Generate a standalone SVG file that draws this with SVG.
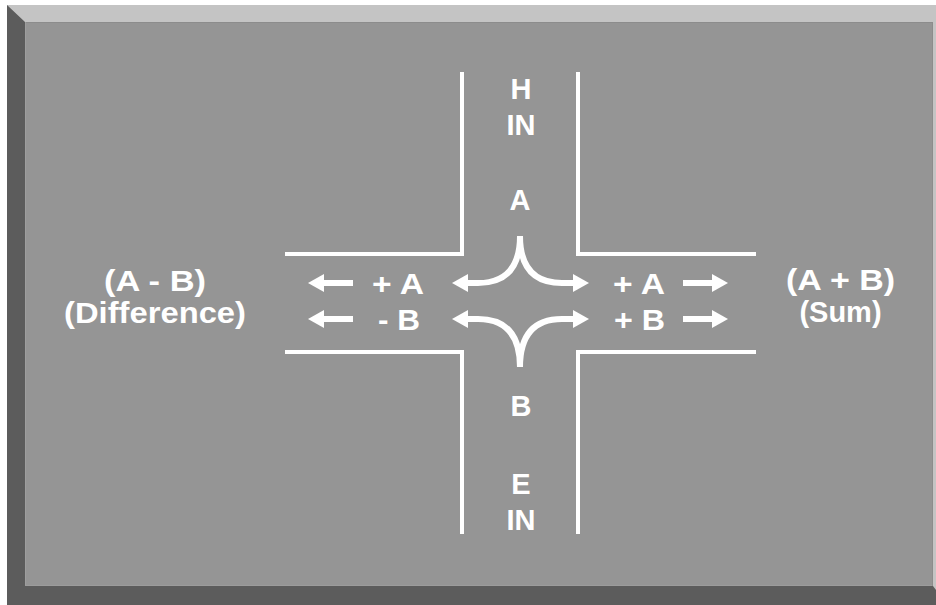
<svg xmlns="http://www.w3.org/2000/svg" width="936" height="605" viewBox="0 0 936 605">
  <style>
    .road { fill: none; stroke: #ffffff; stroke-width: 4; }
    .lbl { fill: #ffffff; font-family: "Liberation Sans", Arial, sans-serif; font-weight: bold; font-size: 29px; text-anchor: middle; }
    .arr { fill: none; stroke: #ffffff; stroke-width: 6; marker-end: url(#head); }
  </style>
  <defs>
    <marker id="head" viewBox="0 0 16 18" refX="2" refY="9" markerWidth="16" markerHeight="18" markerUnits="userSpaceOnUse" orient="auto">
      <path d="M0,0 L16,9 L0,18 Z" fill="#ffffff"/>
    </marker>
  </defs>
  <rect x="0" y="0" width="936" height="605" fill="#ffffff"/>
  <g id="frame">
    <polygon points="7,5 936,5 936,605 7,605" fill="#c4c4c4"/>
    <polygon points="7,5 25,22 25,586 933,586 936,590 936,605 7,605" fill="#5c5c5c"/>
    <rect x="25" y="22" width="908" height="564" fill="#959595"/>
    <line x1="25" y1="22.5" x2="933" y2="22.5" stroke="#8c8c8c" stroke-width="1"/>
    <line x1="25.5" y1="22" x2="25.5" y2="586" stroke="#9e9e9e" stroke-width="1"/>
    <line x1="25" y1="585.5" x2="933" y2="585.5" stroke="#9c9c9c" stroke-width="1"/>
    <line x1="932.5" y1="22" x2="932.5" y2="586" stroke="#8c8c8c" stroke-width="1"/>
  </g>
  <g id="roads">
    <polyline class="road" points="462,72 462,254 285,254"/>
    <polyline class="road" points="578,72 578,254 756,254"/>
    <polyline class="road" points="285,352 462,352 462,534"/>
    <polyline class="road" points="756,352 578,352 578,534"/>
  </g>
  <g id="connectors">
    <line class="arr" x1="353" y1="283" x2="322" y2="283"/>
    <line class="arr" x1="353" y1="319" x2="322" y2="319"/>
    <line class="arr" x1="683" y1="283" x2="714" y2="283"/>
    <line class="arr" x1="683" y1="319" x2="714" y2="319"/>
    <path class="arr" d="M520,236 Q520,283 478,283 L466,283"/>
    <path class="arr" d="M520,236 Q520,283 562,283 L575,283"/>
    <path class="arr" d="M520,367 Q520,319 478,319 L466,319"/>
    <path class="arr" d="M520,367 Q520,319 562,319 L575,319"/>
  </g>
  <g id="node-difference">
    <text class="lbl" x="155" y="291" textLength="102" lengthAdjust="spacingAndGlyphs">(A - B)</text>
    <text class="lbl" x="155" y="323" textLength="182" lengthAdjust="spacingAndGlyphs">(Difference)</text>
  </g>
  <g id="node-sum">
    <text class="lbl" x="840.5" y="290" textLength="109" lengthAdjust="spacingAndGlyphs">(A + B)</text>
    <text class="lbl" x="840.5" y="322">(Sum)</text>
  </g>
  <g id="node-left-labels">
    <text class="lbl" x="398" y="294" textLength="52" lengthAdjust="spacingAndGlyphs">+ A</text>
    <text class="lbl" x="399" y="330" textLength="42" lengthAdjust="spacingAndGlyphs">- B</text>
  </g>
  <g id="node-right-labels">
    <text class="lbl" x="639" y="294" textLength="52" lengthAdjust="spacingAndGlyphs">+ A</text>
    <text class="lbl" x="639.5" y="330" textLength="51" lengthAdjust="spacingAndGlyphs">+ B</text>
  </g>
  <g id="node-h-in">
    <text class="lbl" x="521" y="99">H</text>
    <text class="lbl" x="521" y="135">IN</text>
  </g>
  <g id="node-a">
    <text class="lbl" x="520" y="210">A</text>
  </g>
  <g id="node-b">
    <text class="lbl" x="521" y="416">B</text>
  </g>
  <g id="node-e-in">
    <text class="lbl" x="521" y="494">E</text>
    <text class="lbl" x="521" y="530">IN</text>
  </g>
</svg>
